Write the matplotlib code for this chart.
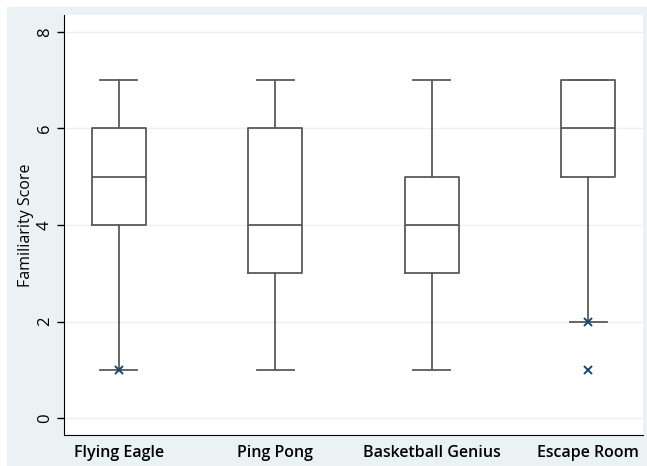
import matplotlib
matplotlib.use("Agg")
import matplotlib.pyplot as plt
from matplotlib.patches import Rectangle

games = ["Flying Eagle", "Ping Pong", "Basketball Genius", "Escape Room"]
whislo = [1, 1, 1, 2]
q1 = [4, 3, 3, 5]
med = [5, 4, 4, 6]
q3 = [6, 6, 5, 7]
whishi = [7, 7, 7, 7]
outliers = [[1], [], [], [2, 1]]

plt.rcParams['font.family'] = ['Open Sans', 'DejaVu Sans']

fig = plt.figure(figsize=(6.47, 4.66), dpi=100)
fig.patch.set_facecolor("white")
# Stata-style light background panel, behind the axes
bg = Rectangle((7 / 647, 0), 640 / 647, 459 / 466,
               transform=fig.transFigure, facecolor="#eaf2f3",
               edgecolor="none", zorder=-10)
fig.add_artist(bg)

ax = fig.add_axes([64 / 647, 31 / 466, 579 / 647, 420 / 466])
ax.set_zorder(1)
ax.set_facecolor("white")

stats = []
for i, g in enumerate(games):
    stats.append(dict(label=g, whislo=whislo[i], q1=q1[i], med=med[i],
                      q3=q3[i], whishi=whishi[i], fliers=[]))

pos = list(range(1, len(games) + 1))
line_c = "#5a5a5a"
ax.bxp(stats, positions=pos, widths=0.345, showfliers=False,
       boxprops=dict(color=line_c, linewidth=1.3),
       medianprops=dict(color=line_c, linewidth=1.3),
       whiskerprops=dict(color=line_c, linewidth=1.3),
       capprops=dict(color=line_c, linewidth=1.3),
       capwidths=0.235, zorder=3)

for i, outs in enumerate(outliers):
    for v in outs:
        ax.plot(pos[i], v, marker="x", color="#1a476f", markersize=6,
                markeredgewidth=1.4, linestyle="none", zorder=4)

ax.set_xlim(0.65, 4.35)
ax.set_ylim(-0.35, 8.35)
ax.set_yticks([0, 2, 4, 6, 8])
ax.yaxis.grid(True, color="#eaf2f3", linewidth=1)
ax.set_axisbelow(True)
ax.set_xticks(pos)
ax.set_xticklabels(games, fontsize=11.5, fontweight="semibold")
ax.tick_params(axis="x", length=0, pad=7)
ax.tick_params(axis="y", length=5, width=1, labelsize=12, pad=3)
for lab in ax.get_yticklabels():
    lab.set_rotation(90)
    lab.set_va("center")

ax.set_ylabel("Familiarity Score", fontsize=11.5, labelpad=2)
ax.spines["top"].set_visible(False)
ax.spines["right"].set_visible(False)
ax.spines["left"].set_color("black")
ax.spines["bottom"].set_color("black")

fig.savefig("out.png", dpi=100)
